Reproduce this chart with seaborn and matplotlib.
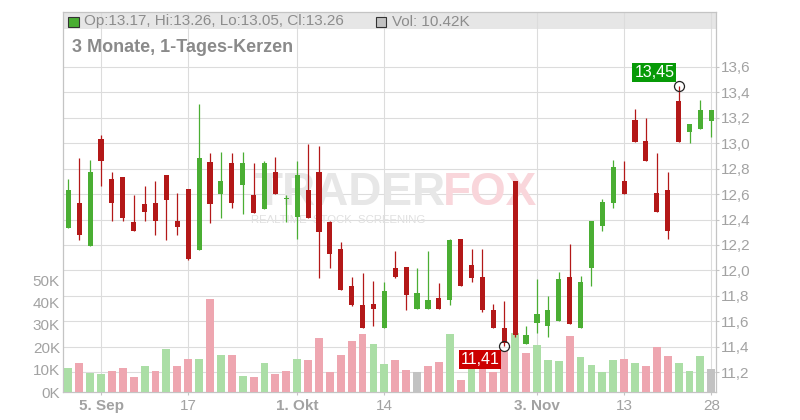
import numpy as np
import pandas as pd
import matplotlib
matplotlib.use("Agg")
import matplotlib.pyplot as plt
import seaborn as sns
from matplotlib.patches import Rectangle

# ---------------- data ----------------
opens = [12.33, 12.53, 12.19, 13.03, 12.72, 12.73, 12.38, 12.52, 12.53, 12.75,
         12.39, 12.64, 12.16, 12.85, 12.60, 12.84, 12.67, 12.59, 12.48, 12.77,
         12.56, 12.42, 12.63, 12.77, 12.38, 12.17, 11.88, 11.73, 11.74, 11.55,
         12.02, 12.03, 11.70, 11.70, 11.78, 11.77, 12.25, 12.04, 11.95, 11.69,
         11.55, 12.70, 11.42, 11.59, 11.56, 11.60, 11.95, 11.55, 12.02, 12.35,
         12.53, 12.70, 13.18, 13.02, 12.61, 12.63, 13.33, 13.09, 13.11, 13.17]
highs = [12.72, 12.88, 12.87, 13.06, 12.77, 12.73, 12.59, 12.66, 12.70, 12.75,
         12.61, 12.64, 13.31, 12.92, 12.93, 12.92, 12.93, 12.84, 12.86, 12.89,
         12.59, 12.86, 12.99, 12.98, 12.39, 12.22, 11.95, 11.98, 11.92, 11.91,
         12.15, 12.03, 12.02, 12.15, 11.90, 12.25, 12.25, 12.17, 12.17, 11.74,
         11.76, 12.70, 11.56, 11.93, 11.80, 11.99, 12.21, 11.96, 12.39, 12.56,
         12.87, 12.86, 13.27, 13.20, 12.92, 12.77, 13.45, 13.15, 13.34, 13.26]
lows = [12.33, 12.24, 12.19, 12.66, 12.39, 12.39, 12.31, 12.39, 12.28, 12.24,
        12.28, 12.08, 12.16, 12.37, 12.41, 12.49, 12.44, 12.45, 12.48, 12.60,
        12.38, 12.25, 12.41, 11.94, 12.02, 11.85, 11.72, 11.55, 11.56, 11.55,
        11.94, 11.69, 11.70, 11.70, 11.70, 11.73, 11.88, 11.91, 11.67, 11.55,
        11.41, 11.48, 11.42, 11.51, 11.48, 11.60, 11.58, 11.55, 11.88, 12.31,
        12.49, 12.60, 13.01, 12.86, 12.46, 12.25, 13.01, 13.00, 13.11, 13.05]
closes = [12.63, 12.28, 12.77, 12.86, 12.53, 12.41, 12.31, 12.46, 12.39, 12.55,
          12.34, 12.09, 12.88, 12.52, 12.70, 12.53, 12.84, 12.45, 12.84, 12.60,
          12.57, 12.75, 12.41, 12.30, 12.13, 11.85, 11.73, 11.55, 11.70, 11.84,
          11.95, 11.81, 11.82, 11.77, 11.70, 12.24, 11.88, 11.94, 11.69, 11.55,
          11.43, 11.49, 11.49, 11.66, 11.69, 11.93, 11.58, 11.91, 12.39, 12.54,
          12.81, 12.60, 13.01, 12.86, 12.46, 12.31, 13.01, 13.15, 13.26, 13.26]
volumes_k = [10.9, 13.1, 8.6, 8.3, 9.5, 10.9, 6.8, 11.8, 9.5, 19.3,
             11.8, 14.9, 14.9, 41.7, 16.7, 16.7, 7.3, 6.8, 13.1, 8.2,
             9.5, 14.9, 14.4, 24.3, 9.1, 16.7, 22.9, 26.0, 21.6, 12.6,
             14.4, 10.0, 9.1, 11.8, 13.5, 26.0, 5.5, 12.0, 11.0, 9.1,
             18.5, 26.5, 17.6, 21.2, 14.5, 14.0, 25.2, 15.8, 12.2, 9.1,
             14.5, 14.9, 13.1, 11.8, 20.3, 16.3, 13.1, 9.5, 16.3, 10.42]
vol_dir = ["up", "down", "up", "up", "down", "down", "down", "up", "down", "up",
           "down", "down", "up", "down", "up", "down", "up", "down", "up", "down",
           "down", "up", "down", "down", "down", "down", "down", "down", "up", "up",
           "down", "down", "flat", "down", "down", "up", "down", "up", "down", "down",
           "down", "up", "down", "up", "up", "up", "down", "up", "up", "up",
           "up", "down", "up", "down", "down", "down", "up", "up", "up", "flat"]

x_tick_pos = [3, 11, 21, 29, 43, 51, 59]
x_tick_labels = ["5. Sep", "17", "1. Okt", "14", "3. Nov", "13", "28"]
x_tick_bold = [True, False, True, False, True, False, False]
price_ticks = [11.2, 11.4, 11.6, 11.8, 12.0, 12.2, 12.4, 12.6, 12.8, 13.0, 13.2, 13.4, 13.6]
vol_ticks_k = [0, 10, 20, 30, 40, 50]

title = "3 Monate, 1-Tages-Kerzen"
header_ohlc = "Op:13.17, Hi:13.26, Lo:13.05, Cl:13.26"
header_vol = "Vol: 10.42K"

# ---------------- style ----------------
sns.set_theme(style="white")
plt.rcParams["font.family"] = ["Liberation Sans", "DejaVu Sans"]

GREEN = "#4aae33"
RED = "#b31818"
VOL_PAL = {"up": "#abdea6", "down": "#eea6b0", "flat": "#c2c2c2"}
GRID = "#dcdcdc"
AXC = "#c4c4c4"
TXT = "#a2a2a2"

W, H = 800, 420
fig = plt.figure(figsize=(W / 100, H / 100), dpi=100)
fig.patch.set_facecolor("white")

L, R, B, T = 63.3, 716.0, 392.3, 11.7
rect = [L / W, (H - B) / H, (R - L) / W, (B - T) / H]
XLIM = (-0.46, 59.43)
PLIM = (11.043, 14.032)
VLIM = (0, 169.5)

def fx(x):
    return x / W

def fy(y):
    return 1 - y / H

# header band
fig.add_artist(Rectangle((fx(L), fy(29.3)), (R - L) / W, (29.3 - T) / H,
                         transform=fig.transFigure, facecolor="#e6e6e6",
                         edgecolor="none", zorder=-1))

# ---------- background axes: grid, price ticks, date ticks ----------
ax_bg = fig.add_axes(rect, zorder=0)
ax_bg.set_facecolor("none")
ax_bg.set_xlim(*XLIM)
ax_bg.set_ylim(*PLIM)
ax_bg.set_yticks(price_ticks)
ax_bg.set_yticklabels([f"{v:.1f}".replace(".", ",") for v in price_ticks])
ax_bg.yaxis.tick_right()
ax_bg.set_xticks(x_tick_pos)
ax_bg.set_xticklabels(x_tick_labels)
for lab, b in zip(ax_bg.get_xticklabels(), x_tick_bold):
    lab.set_fontweight("bold" if b else "normal")
ax_bg.grid(True, color=GRID, linewidth=0.8)
ax_bg.tick_params(axis="y", which="both", right=True, left=False, length=2.3,
                  width=0.8, color=AXC, pad=1.3, labelsize=11, labelcolor=TXT)
ax_bg.tick_params(axis="x", bottom=True, length=2.5, width=0.8, color=AXC,
                  pad=2.0, labelsize=11, labelcolor=TXT)
for s in ax_bg.spines.values():
    s.set_color(AXC)
    s.set_linewidth(0.9)

# ---------- watermark (behind the data) ----------
fig.text(fx(255), fy(193), "TRADER", fontsize=33, fontweight="bold",
         color="#e7e7e7", ha="left", va="center", zorder=0.5)
fig.text(fx(443), fy(193), "FOX", fontsize=33, fontweight="bold",
         color="#f9d6db", ha="left", va="center", zorder=0.5)
fig.text(fx(251), fy(220), "REALTIME  STOCK  SCREENING", fontsize=8.2,
         color="#e0e0e0", ha="left", va="center", zorder=0.5)

# ---------- volume axes ----------
ax_vol = fig.add_axes(rect, zorder=1)
ax_vol.set_facecolor("none")
vol_df = pd.DataFrame({"idx": np.arange(len(volumes_k)), "vol": volumes_k, "dir": vol_dir})
sns.barplot(data=vol_df, x="idx", y="vol", hue="dir", palette=VOL_PAL,
            native_scale=True, dodge=False, width=0.72, errorbar=None,
            legend=False, saturation=1, linewidth=0, ax=ax_vol)
ax_vol.set_xlim(*XLIM)
ax_vol.set_ylim(*VLIM)
ax_vol.set_yticks(vol_ticks_k)
ax_vol.set_yticklabels([f"{v}K" for v in vol_ticks_k])
ax_vol.set_xticks([])
ax_vol.set_xlabel("")
ax_vol.set_ylabel("")
ax_vol.grid(False)
ax_vol.tick_params(axis="y", left=False, right=False, length=0, pad=2.4,
                   labelsize=11, labelcolor=TXT)
for s in ax_vol.spines.values():
    s.set_visible(False)

# ---------- candle axes ----------
ax_c = fig.add_axes(rect, zorder=2)
ax_c.set_facecolor("none")
ax_c.set_xlim(*XLIM)
ax_c.set_ylim(*PLIM)
ax_c.set_axis_off()

o = np.array(opens); h = np.array(highs); l = np.array(lows); c = np.array(closes)
idx = np.arange(len(o))
cols = np.where(c >= o, GREEN, RED)
ax_c.vlines(idx, l, h, colors=cols, linewidth=0.9)
body_lo = np.minimum(o, c)
body_h = np.maximum(np.abs(c - o), 0.012)
ax_c.bar(idx, body_h, bottom=body_lo, width=0.47, color=cols, linewidth=0)

# max / min markers
imax = int(np.argmax(h)); imin = int(np.argmin(l))
for i, val, off, fc in [(imax, h[imax], (-17.5, 9.7), "#079a07"),
                        (imin, l[imin], (-17.5, -10.3), "#cc0000")]:
    ax_c.plot([i], [val], marker="o", ms=7.2, mfc="none", mec="#222222", mew=0.9)
    ax_c.annotate(f"{val:.2f}".replace(".", ","), xy=(i, val), xytext=off,
                  textcoords="offset points", ha="center", va="center",
                  color="white", fontsize=11.5,
                  bbox=dict(boxstyle="square,pad=0.12", fc=fc, ec="none"))

# ---------- header texts ----------
fig.add_artist(Rectangle((fx(68.3), fy(26.7)), 10.7 / W, 10 / H,
                         transform=fig.transFigure, facecolor=GREEN,
                         edgecolor="#333333", linewidth=0.8, zorder=3))
fig.text(fx(84), fy(21.5), header_ohlc, fontsize=11, color="#8c8c8c",
         ha="left", va="center")
fig.add_artist(Rectangle((fx(375.5), fy(26.7)), 10.7 / W, 10 / H,
                         transform=fig.transFigure, facecolor="#c2c2c2",
                         edgecolor="#333333", linewidth=0.8, zorder=3))
fig.text(fx(391.5), fy(21.5), header_vol, fontsize=11, color="#8c8c8c",
         ha="left", va="center")
fig.text(fx(72), fy(48), title, fontsize=13, fontweight="bold",
         color="#8a8a8a", ha="left", va="center")

fig.savefig("out.png", dpi=100, facecolor="white")
